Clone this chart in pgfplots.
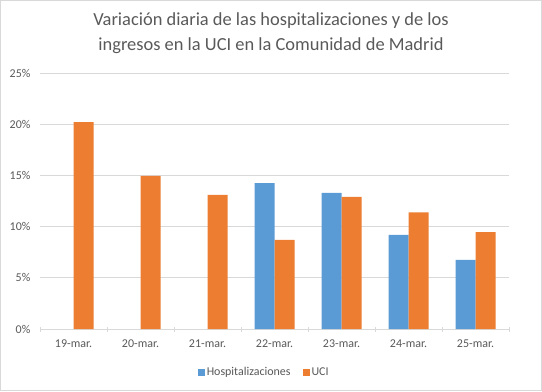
\documentclass[border=0pt]{standalone}
\usepackage{fontspec}
\setmainfont{Carlito}
\usepackage{pgfplots}
\pgfplotsset{compat=1.18}
\definecolor{hosp}{HTML}{5B9BD5}
\definecolor{uci}{HTML}{ED7D31}
\definecolor{txt}{HTML}{595959}
\definecolor{gridc}{HTML}{D9D9D9}
\begin{document}
\begin{tikzpicture}[x=1bp,y=1bp]
\draw[gridc, line width=1bp] (0.5,0.5) rectangle (541.5,390.5);
\node[txt, font=\fontsize{18.5}{25}\selectfont, align=center] at (271,358) {Variación diaria de las hospitalizaciones y de los\\ingresos en la UCI en la Comunidad de Madrid};
\begin{axis}[at={(40bp,62bp)}, anchor=south west, scale only axis,
  width=469bp, height=256bp,
  ybar=0pt, bar width=20bp,
  xmin=-0.5, xmax=6.5, ymin=0, ymax=25,
  xtick={0,...,6},
  xticklabels={19-mar.,20-mar.,21-mar.,22-mar.,23-mar.,24-mar.,25-mar.},
  major x tick style={draw=none},
  minor xtick={-0.5,0.5,1.5,2.5,3.5,4.5,5.5,6.5},
  minor x tick style={gridc, line width=0.75bp},
  minor tick length=5bp,
  tick align=outside,
  ytick={0,5,10,15,20,25},
  yticklabel={\pgfmathprintnumber{\tick}\%},
  ytick style={draw=none},
  ymajorgrids, grid style={gridc, line width=0.75bp},
  axis x line=bottom, axis y line=left,
  x axis line style={gridc, line width=0.75bp, -},
  y axis line style={draw=none},
  ticklabel style={txt, font=\fontsize{12}{14}\selectfont},
  xticklabel style={yshift=-5bp},
  yticklabel style={xshift=-4bp},
  /pgf/number format/assume math mode=true,
  legend style={at={(0.478,-0.168)}, anchor=center, draw=none, legend columns=2,
    font=\fontsize{12}{14}\selectfont, text=txt,
    /tikz/every even column/.append style={column sep=10bp}},
  legend image code/.code={\fill[#1] (0bp,-3.5bp) rectangle (7bp,3.5bp);},
]
\addplot[fill=hosp, draw=none] coordinates {(3,14.25) (4,13.3) (5,9.2) (6,6.75)};
\addplot[fill=uci, draw=none] coordinates {(0,20.2) (1,14.95) (2,13.1) (3,8.7) (4,12.9) (5,11.4) (6,9.45)};
\legend{Hospitalizaciones,UCI}
\end{axis}
\end{tikzpicture}
\end{document}
